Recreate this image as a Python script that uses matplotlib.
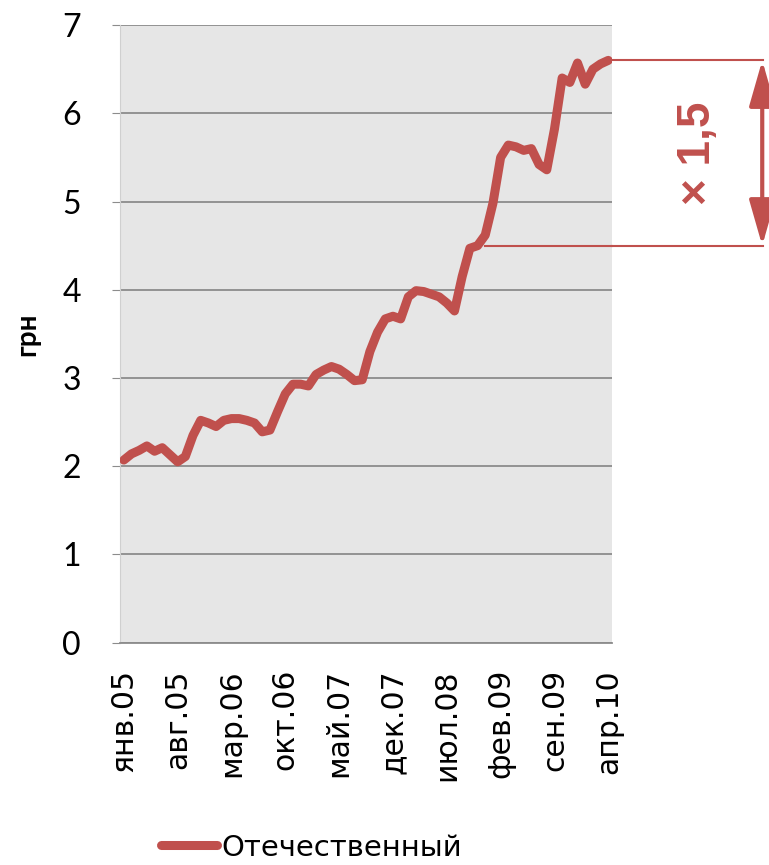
import numpy as np
import matplotlib.pyplot as plt
import matplotlib.transforms as mtransforms

# monthly price, Jan 2005 .. Apr 2010
values = [2.07, 2.14, 2.18, 2.23, 2.17, 2.21, 2.13, 2.05, 2.11, 2.35,
          2.52, 2.49, 2.45, 2.52, 2.54, 2.54, 2.52, 2.49, 2.39, 2.41,
          2.62, 2.82, 2.93, 2.93, 2.91, 3.04, 3.09, 3.13, 3.10, 3.04,
          2.97, 2.98, 3.30, 3.52, 3.67, 3.70, 3.67, 3.92, 3.99, 3.98,
          3.95, 3.92, 3.85, 3.76, 4.15, 4.47, 4.50, 4.62, 4.98, 5.50,
          5.64, 5.62, 5.58, 5.60, 5.42, 5.36, 5.82, 6.40, 6.35, 6.57,
          6.33, 6.50, 6.56, 6.60]
tick_labels = ["янв.05", "авг.05", "мар.06", "окт.06", "май.07",
               "дек.07", "июл.08", "фев.09", "сен.09", "апр.10"]
series_name = "Отечественный"
ylabel = "грн"
growth_text = "× 1,5"
base_value = 4.5
base_index = 47

red = "#C0504D"
plt.rcParams['font.family'] = ['Lato', 'DejaVu Sans']

fig = plt.figure(figsize=(7.69, 8.65), dpi=100)
ax = fig.add_axes([0.156, 0.257, 0.64, 0.714])
ax.set_facecolor("#E6E6E6")

x = np.arange(len(values))
ax.plot(x, values, color=red, lw=6.5, solid_joinstyle='round',
        solid_capstyle='round', label=series_name, zorder=3)

ax.set_xlim(-0.5, len(values) - 0.5)
ax.set_ylim(0, 7)
ax.set_yticks(range(8))
ax.set_xticks(x[::7])
ax.set_xticklabels(tick_labels, rotation=90, family=['DejaVu Sans'])
ax.grid(axis='y', color="#8C8C8C", lw=1.3)
ax.set_axisbelow(True)

for s in ["top", "right"]:
    ax.spines[s].set_visible(False)
ax.spines["left"].set_color("#D0D0D0")
ax.spines["bottom"].set_color("#8C8C8C")
ax.spines["bottom"].set_linewidth(1.3)
ax.tick_params(axis='y', labelsize=23, pad=22, length=6, color="#8C8C8C")
ax.tick_params(axis='x', labelsize=21.5, pad=19, length=0)
ax.set_ylabel(ylabel, fontsize=20, fontweight='bold', labelpad=16)

# growth bracket on the right
trans = mtransforms.blended_transform_factory(ax.transAxes, ax.transData)
top = values[-1]
ax.plot([1.0, 1.307], [top, top], color=red, lw=1.5, transform=trans, clip_on=False)
ax.plot([base_index, len(values) - 0.5], [base_value, base_value], color=red, lw=1.5,
        clip_on=False, zorder=2)
ax.plot([1.0, 1.307], [base_value, base_value], color=red, lw=1.5,
        transform=trans, clip_on=False)
ax.annotate("", xy=(1.305, top), xytext=(1.305, base_value),
            xycoords=trans, textcoords=trans,
            arrowprops=dict(arrowstyle='<|-|>,head_length=1.4,head_width=0.4',
                            color=red, lw=3, mutation_scale=20,
                            shrinkA=0, shrinkB=0), annotation_clip=False)
ax.text(1.175, (top + base_value) / 2, growth_text, transform=trans, rotation=90,
        ha='center', va='center', color=red, fontsize=33, fontweight='bold',
        family=['Liberation Sans', 'DejaVu Sans'])

leg = fig.legend(loc='center', bbox_to_anchor=(0.405, 0.02), frameon=False,
                 prop={'family': 'DejaVu Sans', 'size': 21},
                 handlelength=1.9, handletextpad=0.15)

fig.savefig("out.png", dpi=100)
